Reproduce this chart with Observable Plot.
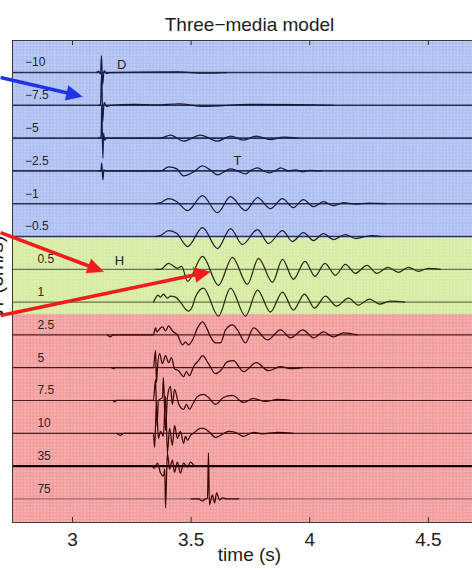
<!DOCTYPE html>
<html><head><meta charset="utf-8">
<script src="https://cdn.jsdelivr.net/npm/d3@7"></script>
<script src="https://cdn.jsdelivr.net/npm/@observablehq/plot@0.6"></script>
<style>
html,body{margin:0;padding:0;background:#fff;}
#chart svg{display:block;}
</style></head>
<body><div id="chart"></div>
<script>
// ---------- texts ----------
const title = "Three\u2212media model";
const xLabel = "time (s)";
const yLabel = "Vr (cm/s)";
const xTicks = [3, 3.5, 4, 4.5];

// ---------- traces (top to bottom) ----------
const traceLabels = ["\u221210","\u22127.5","\u22125","\u22122.5","\u22121","\u22120.5","0.5","1","2.5","5","7.5","10","35","75"];
const traceMedium = ["blue","blue","blue","blue","blue","blue","green","green","red","red","red","red","red","red"];
// band edges (in trace-slot units) between the three media
const bandEdges = [5.05, 7.38];

// each trace: [time (s), relative amplitude]
const tr_m10 = [[3.101,0],[3.110,1.5],[3.118,-1.5],[3.122,17],[3.127,-12],[3.133,2],[3.143,-1],[3.160,0],[3.45,0.7],[3.55,-0.7],[3.65,0]];
const tr_m7_5 = [[3.110,0],[3.118,1],[3.123,33],[3.127,-17],[3.133,3],[3.143,-1],[3.160,0],[3.26,1],[3.35,0.5],[3.45,1.5],[3.55,-1],[3.75,1],[3.95,0.8],[4.10,0]];
const tr_m5 = [[3.110,0],[3.118,0.5],[3.121,4],[3.123,32],[3.128,-20],[3.131,5],[3.135,-2],[3.143,0],[3.371,0],[3.413,3],[3.468,-3],[3.539,3],[3.611,-3],[3.666,2],[3.721,-2],[3.775,2],[3.834,-1.5],[3.889,1],[3.95,0]];
const tr_m2_5 = [[3.110,0],[3.120,0],[3.123,8],[3.128,-9],[3.132,1],[3.140,0],[3.371,0],[3.405,4],[3.44,2],[3.468,-5],[3.510,-1],[3.548,5],[3.58,1],[3.611,-4],[3.645,0],[3.666,2],[3.695,0],[3.729,-3],[3.755,1],[3.780,3],[3.805,0],[3.830,-2],[3.855,0],[3.877,3],[3.91,0],[3.94,1],[3.97,-1],[4.00,0.5],[4.05,0]];
const tr_m1 = [[3.350,0],[3.371,1],[3.405,5],[3.44,2],[3.485,-7],[3.548,8],[3.611,-9],[3.666,7],[3.729,-7],[3.780,6],[3.834,-5],[3.885,5],[3.931,-4],[3.973,4],[4.016,-3],[4.058,2],[4.100,-2],[4.142,1],[4.19,-0.5],[4.25,0.5],[4.32,0]];
const tr_m0_5 = [[3.350,0],[3.371,1],[3.405,6],[3.44,3],[3.485,-10],[3.548,9],[3.611,-12],[3.666,8],[3.716,-8],[3.780,7],[3.826,-7],[3.885,6],[3.927,-5],[3.973,4],[4.016,-4],[4.058,3],[4.100,-3],[4.150,2],[4.193,-2],[4.26,1],[4.30,0]];
const tr_0_5 = [[3.350,0],[3.371,0],[3.405,6],[3.442,1],[3.46,3],[3.485,-12],[3.548,13],[3.615,-16],[3.674,12],[3.737,-15],[3.784,11],[3.843,-13],[3.885,10],[3.931,-10],[3.980,8],[4.022,-7],[4.064,6],[4.108,-6],[4.150,5],[4.193,-4],[4.241,4],[4.283,-4],[4.330,2],[4.374,-3],[4.416,2],[4.458,-2],[4.50,1],[4.55,0]];
const tr_1 = [[3.341,0],[3.350,4],[3.360,7],[3.371,5],[3.383,8],[3.400,4],[3.413,6],[3.434,5],[3.455,0],[3.476,-7],[3.489,-9],[3.506,-4],[3.518,5],[3.552,14],[3.615,-14],[3.666,14],[3.729,-14],[3.780,12],[3.834,-10],[3.885,10],[3.931,-8],[3.978,8],[4.020,-6],[4.066,6],[4.113,-4],[4.163,4],[4.205,-3],[4.252,3],[4.294,-2],[4.34,1],[4.40,0]];
const tr_2_5 = [[3.147,0],[3.160,-2],[3.170,0],[3.341,0],[3.350,7],[3.356,3],[3.367,6],[3.379,8],[3.392,4],[3.405,9],[3.421,4],[3.442,0],[3.464,-10],[3.476,-7],[3.489,-10],[3.506,-5],[3.527,7],[3.548,13],[3.569,5],[3.582,-2],[3.603,-8],[3.624,-8],[3.645,5],[3.674,10],[3.695,5],[3.729,-8],[3.763,7],[3.822,-5],[3.877,5],[3.919,-3],[3.971,5],[4.016,-3],[4.058,3],[4.100,-2],[4.142,2],[4.20,0]];
const tr_5 = [[3.165,0],[3.173,-1],[3.180,0],[3.341,0],[3.350,17],[3.354,-15],[3.358,0],[3.367,14],[3.379,4],[3.392,12],[3.405,5],[3.417,10],[3.430,-1],[3.447,-3],[3.468,-9],[3.480,-4],[3.493,-8],[3.510,1],[3.531,7],[3.548,12],[3.573,4],[3.603,-6],[3.624,-3],[3.653,6],[3.678,7],[3.721,-4],[3.775,5],[3.826,-3],[3.877,1],[3.919,-1],[3.97,0]];
const tr_7_5 = [[3.170,0],[3.177,-1.5],[3.185,0],[3.341,0],[3.350,21],[3.356,-25],[3.362,0],[3.379,3],[3.383,23],[3.392,-30],[3.400,3],[3.413,14],[3.421,-4],[3.430,11],[3.447,-3],[3.468,-9],[3.480,-4],[3.493,-9],[3.506,-4],[3.527,4],[3.552,6],[3.573,3],[3.603,-4],[3.636,3],[3.674,5],[3.721,-2],[3.763,2],[3.813,-1],[3.864,1],[3.92,0]];
const tr_10 = [[3.185,0],[3.202,-2],[3.215,0],[3.341,0],[3.346,-14],[3.354,30],[3.362,-5],[3.371,2],[3.383,-3],[3.392,37],[3.400,-20],[3.409,5],[3.421,-12],[3.430,8],[3.442,-5],[3.455,2],[3.468,-10],[3.476,-3],[3.485,-7],[3.497,-2],[3.510,0],[3.539,5],[3.552,5],[3.573,2],[3.603,-4],[3.632,-1],[3.657,2],[3.687,1],[3.721,-3],[3.763,1],[3.80,-0.5],[3.864,1],[3.93,0]];
const tr_35 = [[3.335,0],[3.345,-2],[3.358,3],[3.371,-7],[3.383,-10],[3.389,-3],[3.392,-42],[3.400,13],[3.409,-3],[3.421,6],[3.430,-6],[3.442,4],[3.455,-7],[3.468,3],[3.485,-1],[3.497,4],[3.518,0],[3.55,0]];
const tr_75 = [[3.50,0],[3.531,0],[3.548,-2],[3.560,0],[3.569,1],[3.573,46],[3.577,-6],[3.582,-2],[3.590,4],[3.599,-4],[3.607,6],[3.620,-1],[3.632,1],[3.650,0],[3.70,0]];
const traces = [tr_m10, tr_m7_5, tr_m5, tr_m2_5, tr_m1, tr_m0_5, tr_0_5, tr_1, tr_2_5, tr_5, tr_7_5, tr_10, tr_35, tr_75];

// phase markers: [label, time, trace slot]
const phases = [["D", 3.207, -0.24], ["T", 3.695, 2.68], ["H", 3.198, 5.73]];

// annotation arrows: [colour, start time, start slot, tip time, tip slot]
const arrows = [
  ["#1f33e8", 2.697, 0.15, 3.042, 0.73],
  ["#ee1c1c", 2.697, 4.88, 3.131, 6.07],
  ["#ee1c1c", 2.697, 7.41, 3.582, 6.07]
];

// ---------- layout / style ----------
const W = 472, H = 571, mL = 12, mR = 0, mT = 40, mB = 49;
const xDomain = [2.747, 4.686];
const yDomain = [13.72, -0.976];
const gain = 1 / 32.8;
const bandFill = {blue: "#aebff2", green: "#d7eba2", red: "#f39e9e"};
const waveColor = {blue: "#171c3c", green: "#222c0e", red: "#3a0707"};
const baseColor = {blue: "#283055", green: "#4a5532", red: "#4a1c1c"};

const bands = [
  {y1: yDomain[1], y2: bandEdges[0], m: "blue"},
  {y1: bandEdges[0], y2: bandEdges[1], m: "green"},
  {y1: bandEdges[1], y2: yDomain[0], m: "red"}
];

const xs = Plot.scale({x: {domain: xDomain, range: [mL, W - mR]}});
const ys = Plot.scale({y: {domain: yDomain, range: [H - mB, mT]}});
const headL = 16, headHW = 7.5;
const arrowMarks = arrows.flatMap(([color, x1, y1, x2, y2]) => {
  const p0 = [xs.apply(x1), ys.apply(y1)], p1 = [xs.apply(x2), ys.apply(y2)];
  const dx = p1[0] - p0[0], dy = p1[1] - p0[1], len = Math.hypot(dx, dy);
  const ux = dx / len, uy = dy / len;
  const bx = p1[0] - ux * headL, by = p1[1] - uy * headL;
  const sx = p1[0] - ux * (headL - 3), sy = p1[1] - uy * (headL - 3);
  const head = [[p1[0], p1[1]], [bx - uy * headHW, by + ux * headHW], [bx + uy * headHW, by - ux * headHW]]
    .map(([px, py]) => ({x: xs.invert(px), y: ys.invert(py)}));
  return [
    Plot.link([{x1, y1, x2: xs.invert(sx), y2: ys.invert(sy)}], {x1: "x1", y1: "y1", x2: "x2", y2: "y2", stroke: color, strokeWidth: 3.6}),
    Plot.line(head, {x: "x", y: "y", fill: color, stroke: color, strokeWidth: 0.5})
  ];
});

const tickLen = 5 * gain;

const plot = Plot.plot({
  width: W, height: H,
  marginLeft: mL, marginRight: mR, marginTop: mT, marginBottom: mB,
  style: {fontFamily: "'Liberation Sans', Arial, Helvetica, sans-serif", fontSize: "19px", color: "#1c1c1c", background: "#fff"},
  x: {domain: xDomain, ticks: xTicks, tickSize: 0, tickPadding: 9.5, tickFormat: d => String(d), label: null},
  y: {domain: yDomain, axis: null},
  marks: [
    Plot.rect(bands, {x1: () => xDomain[0], x2: () => xDomain[1], y1: "y1", y2: "y2", fill: d => bandFill[d.m]}),
    Plot.rect(bands, {x1: () => xDomain[0], x2: () => xDomain[1], y1: "y1", y2: "y2", fill: "url(#dotgrid)"}),
    ...traceLabels.map((l, i) => Plot.ruleY([i], {
      stroke: i === 12 ? "#150303" : i === 13 ? "#8a5c5c" : baseColor[traceMedium[i]],
      strokeWidth: i === 12 ? 2.4 : traceMedium[i] === "blue" ? 1.6 : traceMedium[i] === "green" ? 1 : i === 13 ? 1 : 1.2
    })),
    ...traces.map((tr, i) => Plot.line(tr, {
      x: d => d[0], y: d => i - d[1] * gain,
      stroke: waveColor[traceMedium[i]], strokeWidth: 1.25, curve: "monotone-x"
    })),
    Plot.frame({stroke: "#3a3a3a", strokeWidth: 1}),
    Plot.ruleX(xTicks, {x: d => d, y1: () => yDomain[1], y2: () => yDomain[1] + tickLen, stroke: "#333"}),
    Plot.ruleX(xTicks, {x: d => d, y1: () => yDomain[0], y2: () => yDomain[0] - tickLen, stroke: "#333"}),
    Plot.text(traceLabels, {
      x: d => d.startsWith("\u2212") ? 2.800 : 2.852, y: (d, i) => i, text: d => d,
      dy: -10, textAnchor: "start", fontSize: 12, fill: "#262626"
    }),
    Plot.text(phases, {x: d => d[1], y: d => d[2], text: d => d[0], fontSize: 13, fill: "#262626"}),
    Plot.text([title], {x: () => 3.746, frameAnchor: "top", dy: -23, text: d => d, fontSize: 19, fill: "#1c1c1c"}),
    Plot.text([xLabel], {x: () => 3.746, frameAnchor: "bottom", dy: 38, text: d => d, fontSize: 19, fill: "#1c1c1c"}),
    Plot.text([yLabel], {y: () => 6.25, frameAnchor: "left", dx: -16, rotate: -90, textAnchor: "middle", lineAnchor: "middle", text: d => d, fontSize: 21, fill: "#1c1c1c"}),
    ...arrowMarks
  ]
});

const svg = d3.select(plot);
const defs = svg.insert("defs", ":first-child");
const pat = defs.append("pattern").attr("id", "dotgrid").attr("patternUnits", "userSpaceOnUse")
  .attr("width", 3.33).attr("height", 3.33);
pat.append("rect").attr("x", 1).attr("y", 1).attr("width", 1.3).attr("height", 1.3)
  .attr("fill", "#ffffff").attr("fill-opacity", 0.45);
document.getElementById("chart").appendChild(plot);
</script>
</body></html>
